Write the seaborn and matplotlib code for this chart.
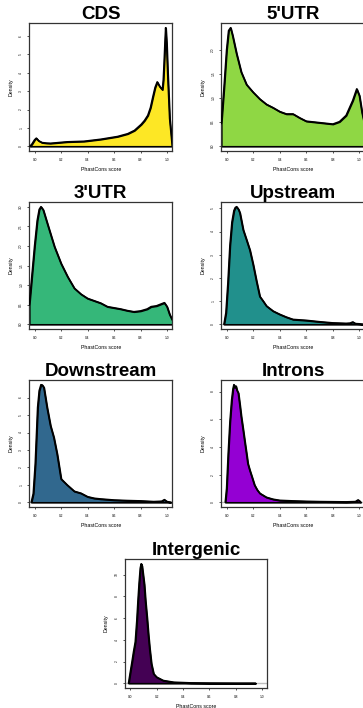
import matplotlib
matplotlib.use("Agg")
import matplotlib.pyplot as plt
import seaborn as sns

# density curves (PhastCons score vs density)
cds_x = [-0.035, -0.02, 0.0, 0.013, 0.03, 0.056, 0.09, 0.12, 0.246, 0.373, 0.5, 0.627, 0.703,
         0.754, 0.805, 0.83, 0.855, 0.875, 0.893, 0.91, 0.926, 0.945, 0.965, 0.972, 0.978,
         0.985, 0.99, 0.997, 1.005, 1.02, 1.04]
cds_y = [0.0, 0.12, 0.35, 0.44, 0.3, 0.2, 0.17, 0.16, 0.24, 0.27, 0.38, 0.53, 0.68,
         0.86, 1.19, 1.4, 1.68, 2.1, 2.68, 3.2, 3.5, 3.25, 3.08, 3.6, 4.5,
         5.7, 6.45, 5.6, 4.0, 1.5, 0.0]

utr5_x = [-0.04, -0.02, 0.0, 0.015, 0.03, 0.045, 0.075, 0.11, 0.15, 0.2, 0.25, 0.3, 0.35,
          0.4, 0.45, 0.5, 0.55, 0.6, 0.7, 0.8, 0.85, 0.9, 0.95, 0.98, 1.0, 1.02, 1.04]
utr5_y = [0.47, 1.2, 2.0, 2.4, 2.46, 2.3, 1.92, 1.54, 1.28, 1.12, 0.98, 0.87, 0.8,
          0.72, 0.67, 0.67, 0.59, 0.52, 0.49, 0.46, 0.51, 0.64, 0.95, 1.19, 1.05, 0.7, 0.45]

utr3_x = [-0.04, -0.02, 0.0, 0.02, 0.035, 0.048, 0.065, 0.1, 0.15, 0.2, 0.25, 0.3, 0.35,
          0.4, 0.45, 0.5, 0.55, 0.6, 0.65, 0.7, 0.75, 0.8, 0.85, 0.88, 0.92, 0.95, 0.98,
          1.0, 1.02, 1.04]
utr3_y = [0.49, 1.25, 2.0, 2.65, 2.93, 3.0, 2.92, 2.53, 1.98, 1.55, 1.21, 0.92, 0.77,
          0.66, 0.6, 0.54, 0.45, 0.42, 0.39, 0.35, 0.32, 0.34, 0.39, 0.45, 0.47, 0.51, 0.55,
          0.45, 0.25, 0.11]

up_x = [-0.02, -0.005, 0.01, 0.025, 0.04, 0.055, 0.065, 0.075, 0.09, 0.1, 0.125, 0.15, 0.175,
        0.2, 0.225, 0.25, 0.275, 0.3, 0.35, 0.4, 0.45, 0.5, 0.6, 0.7, 0.8, 0.9, 0.93,
        0.95, 0.97, 1.0, 1.03]
up_y = [0.0, 0.5, 1.8, 3.4, 4.4, 4.9, 5.03, 5.07, 4.95, 4.8, 4.07, 3.64, 3.2,
        2.57, 1.86, 1.2, 1.0, 0.79, 0.57, 0.43, 0.31, 0.21, 0.17, 0.11, 0.06, 0.04, 0.05,
        0.1, 0.03, 0.02, 0.0]

down_x = [-0.025, -0.01, 0.005, 0.023, 0.035, 0.048, 0.058, 0.07, 0.094, 0.12, 0.145, 0.17,
          0.2, 0.245, 0.3, 0.35, 0.4, 0.45, 0.5, 0.6, 0.7, 0.8, 0.9, 0.96, 0.98, 1.0, 1.03]
down_y = [0.0, 0.5, 2.2, 5.44, 6.4, 6.74, 6.72, 6.58, 5.44, 4.39, 3.72, 2.77,
          1.34, 1.0, 0.63, 0.52, 0.32, 0.23, 0.19, 0.13, 0.1, 0.08, 0.04, 0.06, 0.15, 0.04, 0.0]

intron_x = [-0.01, 0.0, 0.012, 0.025, 0.038, 0.048, 0.055, 0.062, 0.07, 0.078, 0.088, 0.1,
            0.11, 0.125, 0.138, 0.15, 0.16, 0.175, 0.19, 0.21, 0.23, 0.25, 0.3, 0.35, 0.4,
            0.5, 0.6, 0.7, 0.8, 0.9, 0.97, 0.99, 1.0, 1.01]
intron_y = [0.0, 1.0, 3.5, 5.8, 7.4, 8.2, 8.5, 8.3, 8.4, 8.1, 7.9, 7.0,
            6.2, 5.2, 4.3, 3.5, 2.8, 2.3, 1.86, 1.25, 0.9, 0.65, 0.36, 0.22, 0.14,
            0.1, 0.07, 0.05, 0.04, 0.03, 0.05, 0.17, 0.1, 0.0]

inter_x = [-0.013, 0.0, 0.013, 0.025, 0.038, 0.05, 0.058, 0.067, 0.076, 0.083, 0.089, 0.097,
           0.106, 0.115, 0.127, 0.137, 0.147, 0.16, 0.177, 0.2, 0.25, 0.33, 0.46, 0.6,
           0.8, 0.95]
inter_y = [0.0, 1.0, 1.96, 2.9, 3.8, 5.8, 7.5, 9.2, 10.6, 11.0, 10.8, 10.0,
           9.1, 7.6, 6.0, 4.5, 3.2, 1.8, 0.87, 0.56, 0.25, 0.09, 0.03, 0.01,
           0.0, 0.0]

titles = ["CDS", "5'UTR", "3'UTR", "Upstream", "Downstream", "Introns", "Intergenic"]
colors = ["#FDE725", "#8FD744", "#35B779", "#21908C", "#31688E", "#9400D3", "#440154"]
ytick_step = [1, 0.5, 0.5, 1, 1, 2, 2]
curves = [(cds_x, cds_y), (utr5_x, utr5_y), (utr3_x, utr3_y), (up_x, up_y),
          (down_x, down_y), (intron_x, intron_y), (inter_x, inter_y)]

sns.set_style("white")
plt.rcParams['font.family'] = ['Liberation Sans', 'DejaVu Sans']
plt.rcParams['text.color'] = 'black'
plt.rcParams['axes.labelcolor'] = 'black'
plt.rcParams['xtick.color'] = 'black'
plt.rcParams['ytick.color'] = 'black'

W, H = 363, 708
fig = plt.figure(figsize=(W / 100, H / 100), dpi=100)

# panel boxes in pixels: left, top, width, height
boxes = [(29.3, 23, 143, 128), (221.3, 23, 143.4, 128),
         (29.3, 202, 143, 127), (221.3, 202, 143.4, 127),
         (29.3, 380, 143, 127), (221.3, 380, 143.4, 127),
         (125, 559, 142.3, 129)]

for i, (title, col) in enumerate(zip(titles, colors)):
    l, t, w, h = boxes[i]
    ax = fig.add_axes([l / W, 1 - (t + h) / H, w / W, h / H])
    xs, ys = curves[i]
    ymax = max(ys)
    ax.axhline(0, color="#BEBEBE", lw=1.0, zorder=1)
    ax.fill_between(xs, ys, 0, facecolor=col, edgecolor="black", lw=1.2, zorder=2)
    sns.lineplot(x=xs, y=ys, ax=ax, color="black", lw=1.2, sort=False, zorder=3)
    ax.set_xlim(-0.04, 1.04)
    ax.set_ylim(-0.04 * ymax, 1.04 * ymax)
    step = ytick_step[i]
    n = int(ymax // step)
    ax.set_yticks([k * step for k in range(n + 1)])
    ax.set_xticks([0.0, 0.2, 0.4, 0.6, 0.8, 1.0])
    ax.set_title(title, fontsize=13.5, fontweight="bold", pad=2.7, color="black")
    ax.set_xlabel("PhastCons score", fontsize=3.8, labelpad=3.2)
    ax.set_ylabel("Density", fontsize=3.8, labelpad=4.3)
    ax.tick_params(axis="both", direction="out", length=1.5, width=0.6,
                   labelsize=2.3, pad=3.8, bottom=True, left=True, color="#333333")
    ax.tick_params(axis="y", labelrotation=90, pad=2.8)
    for lab in ax.get_yticklabels():
        lab.set_va("center")
    for sp in ax.spines.values():
        sp.set_visible(True)
        sp.set_linewidth(0.9)
        sp.set_color("#333333")

fig.savefig("out.png", dpi=100)
